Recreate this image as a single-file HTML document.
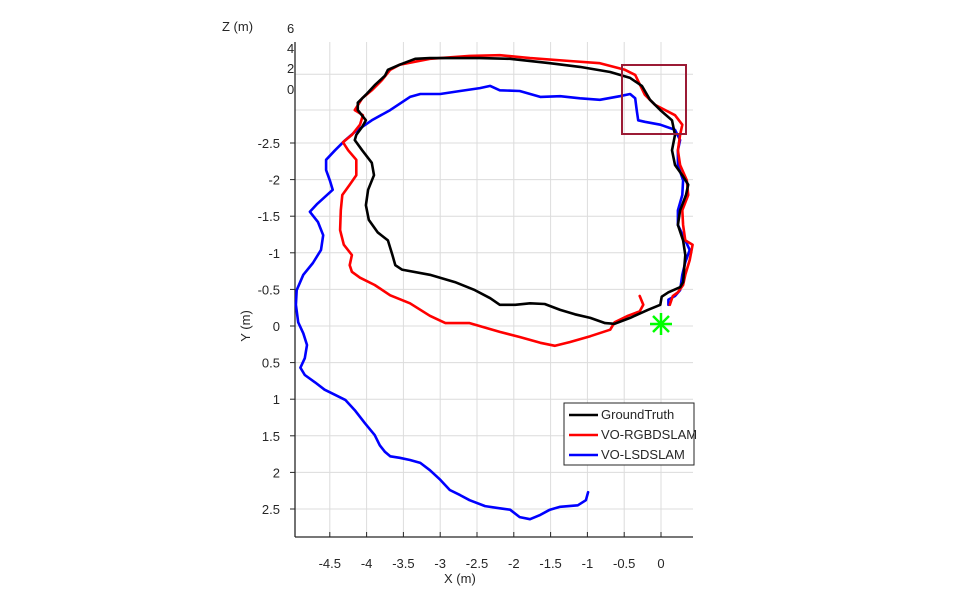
<!DOCTYPE html>
<html><head><meta charset="utf-8"><style>
html,body{margin:0;padding:0;background:#fff;}
svg{display:block;font-family:"Liberation Sans",sans-serif;}
text{fill:#262626;font-size:13px;}
</style></head><body>
<svg id="chart" width="956" height="604">
<g id="grid"></g>
<g id="axes"></g>
<g id="series"></g>
<rect x="622" y="65" width="64" height="69" fill="none" stroke="#9b1b35" stroke-width="2"/>
<g stroke="#00ff00" stroke-width="2.5">
<line x1="650" y1="324" x2="672" y2="324"/><line x1="661" y1="313" x2="661" y2="335"/>
<line x1="653" y1="316" x2="669" y2="332"/><line x1="669" y1="316" x2="653" y2="332"/>
</g>
<text x="222" y="31" font-size="14">Z (m)</text>
<text x="287" y="33">6</text>
<text x="287" y="53">4</text>
<text x="287" y="73">2</text>
<text x="287" y="94">0</text>
<text x="444" y="583" font-size="14">X (m)</text>
<text transform="translate(250,326) rotate(-90)" text-anchor="middle" font-size="14">Y (m)</text>
<g>
<rect x="564" y="403" width="130" height="62" fill="#fff" stroke="#262626" stroke-width="1"/>
<line x1="569" y1="415" x2="598" y2="415" stroke="#000" stroke-width="2.5"/>
<text x="601" y="419" font-size="10.5">GroundTruth</text>
<line x1="569" y1="435" x2="598" y2="435" stroke="#ff0000" stroke-width="2.5"/>
<text x="601" y="439" font-size="10.5">VO-RGBDSLAM</text>
<line x1="569" y1="455" x2="598" y2="455" stroke="#0000ff" stroke-width="2.5"/>
<text x="601" y="459" font-size="10.5">VO-LSDSLAM</text>
</g>
</svg>
<script>
const xTicks=[-4.5,-4,-3.5,-3,-2.5,-2,-1.5,-1,-0.5,0];
const yTicks=[-2.5,-2,-1.5,-1,-0.5,0,0.5,1,1.5,2,2.5];
const extraGridY=[-3.44,-2.95];
const gtX=[-4.16,-4.06,-3.93,-3.90,-3.98,-4.01,-3.97,-3.85,-3.71,-3.65,-3.61,-3.52,-3.14,-2.80,-2.53,-2.32,-2.19,-1.98,-1.78,-1.58,-1.37,-1.17,-0.96,-0.76,-0.63,-0.42,-0.18,-0.01,0.01,0.10,0.26,0.30,0.33,0.30,0.23,0.26,0.34,0.37,0.29,0.19,0.15,0.19,0.15,-0.01,-0.15,-0.26,-0.42,-0.69,-1.10,-1.51,-2.05,-2.46,-2.87,-3.14,-3.34,-3.55,-3.71,-3.75,-3.89,-4.01,-4.12,-4.12,-4.01,-4.06,-4.14,-4.16];
const gtY=[-2.54,-2.40,-2.23,-2.06,-1.86,-1.65,-1.45,-1.28,-1.17,-0.97,-0.83,-0.77,-0.70,-0.60,-0.49,-0.38,-0.29,-0.29,-0.31,-0.30,-0.22,-0.16,-0.11,-0.04,-0.03,-0.11,-0.22,-0.29,-0.40,-0.46,-0.53,-0.60,-0.97,-1.17,-1.38,-1.58,-1.79,-1.93,-2.06,-2.20,-2.40,-2.61,-2.81,-2.95,-3.09,-3.28,-3.39,-3.47,-3.54,-3.59,-3.65,-3.66,-3.66,-3.66,-3.65,-3.57,-3.50,-3.42,-3.29,-3.16,-3.05,-2.95,-2.81,-2.72,-2.61,-2.54];
const rgbX=[-0.29,-0.24,-0.29,-0.45,-0.63,-0.69,-0.96,-1.24,-1.44,-1.64,-1.92,-2.19,-2.60,-2.93,-3.14,-3.41,-3.68,-3.89,-4.09,-4.20,-4.23,-4.20,-4.31,-4.36,-4.35,-4.33,-4.23,-4.14,-4.14,-4.25,-4.32,-4.20,-4.09,-4.05,-4.16,-4.06,-3.93,-3.79,-3.68,-3.55,-3.14,-2.60,-2.19,-1.78,-1.24,-0.83,-0.49,-0.35,-0.22,-0.08,0.19,0.29,0.26,0.23,0.26,0.35,0.37,0.29,0.30,0.33,0.43,0.39,0.33,0.30,0.23,0.16,0.12];
const rgbY=[-0.41,-0.29,-0.20,-0.14,-0.05,0.05,0.14,0.22,0.27,0.23,0.15,0.08,-0.04,-0.04,-0.14,-0.31,-0.42,-0.56,-0.66,-0.74,-0.83,-0.97,-1.11,-1.31,-1.58,-1.79,-1.93,-2.06,-2.27,-2.40,-2.51,-2.61,-2.75,-2.88,-2.95,-3.11,-3.22,-3.36,-3.50,-3.57,-3.65,-3.69,-3.70,-3.66,-3.62,-3.59,-3.50,-3.43,-3.16,-3.02,-2.88,-2.75,-2.61,-2.40,-2.20,-1.99,-1.79,-1.58,-1.38,-1.17,-1.11,-0.90,-0.70,-0.56,-0.46,-0.41,-0.29];
const lsdX=[-0.99,-1.02,-1.13,-1.37,-1.51,-1.64,-1.78,-1.92,-2.05,-2.19,-2.39,-2.60,-2.73,-2.87,-3.00,-3.14,-3.27,-3.41,-3.55,-3.68,-3.75,-3.82,-3.89,-4.02,-4.16,-4.29,-4.43,-4.57,-4.70,-4.84,-4.90,-4.84,-4.81,-4.86,-4.93,-4.96,-4.95,-4.86,-4.73,-4.62,-4.59,-4.66,-4.77,-4.67,-4.57,-4.46,-4.50,-4.55,-4.55,-4.43,-4.29,-4.16,-3.93,-3.68,-3.41,-3.27,-3.00,-2.73,-2.46,-2.32,-2.19,-1.92,-1.64,-1.37,-1.10,-0.83,-0.56,-0.42,-0.35,-0.33,-0.31,-0.22,-0.01,0.19,0.26,0.23,0.23,0.30,0.29,0.23,0.23,0.33,0.39,0.33,0.29,0.26,0.19,0.10,0.10];
const lsdY=[2.27,2.38,2.45,2.47,2.51,2.58,2.64,2.61,2.51,2.49,2.46,2.38,2.31,2.24,2.10,1.97,1.87,1.83,1.80,1.78,1.72,1.63,1.49,1.33,1.15,1.01,0.94,0.87,0.77,0.67,0.57,0.44,0.26,0.10,-0.05,-0.29,-0.49,-0.70,-0.86,-1.04,-1.24,-1.42,-1.56,-1.67,-1.76,-1.86,-1.99,-2.13,-2.27,-2.40,-2.54,-2.65,-2.81,-2.95,-3.13,-3.17,-3.17,-3.21,-3.25,-3.28,-3.22,-3.21,-3.13,-3.14,-3.11,-3.09,-3.14,-3.17,-3.11,-2.95,-2.81,-2.79,-2.75,-2.68,-2.54,-2.40,-2.20,-1.99,-1.79,-1.58,-1.38,-1.17,-1.04,-0.87,-0.70,-0.49,-0.41,-0.36,-0.29];

const NS='http://www.w3.org/2000/svg';
const X0=661,XS=73.6,Y0=326,YS=73.2;
const L=295,R=693,T=42,B=537;
function sx(v){return X0+v*XS;}
function sy(v){return Y0+v*YS;}
function mk(tag,attrs,parent){const e=document.createElementNS(NS,tag);for(const k in attrs)e.setAttribute(k,attrs[k]);parent.appendChild(e);return e;}
const grid=document.getElementById('grid'),axes=document.getElementById('axes'),series=document.getElementById('series');
xTicks.forEach(t=>{
  const g=mk('line',{x1:sx(t),x2:sx(t),y1:T,y2:B,stroke:'#dcdcdc','stroke-width':1},grid);
  
  
  const tk=mk('line',{x1:sx(t),x2:sx(t),y1:B,y2:B-5,stroke:'#262626','stroke-width':1},axes);
  
  
  const lb=mk('text',{x:sx(t),y:568,'text-anchor':'middle'},axes);
  lb.textContent=String(t);
  
  
});
yTicks.concat(extraGridY).forEach(t=>{
  const g=mk('line',{x1:L,x2:R,y1:sy(t),y2:sy(t),stroke:'#dcdcdc','stroke-width':1},grid);
  
  
});
yTicks.forEach(t=>{
  const tk=mk('line',{x1:L-5,x2:L,y1:sy(t),y2:sy(t),stroke:'#262626','stroke-width':1},axes);
  
  
  const lb=mk('text',{x:280,y:sy(t)+5,'text-anchor':'end'},axes);
  lb.textContent=String(t);
  
  
});
const ys=mk('line',{x1:L,x2:L,y1:T,y2:B,stroke:'#262626','stroke-width':1.3},axes);


const xs=mk('line',{x1:L,x2:R,y1:B,y2:B,stroke:'#262626','stroke-width':1.3},axes);


function drawLine(xa,ya,color,name){
  const d=xa.map((v,i)=>(i?'L':'M')+sx(v).toFixed(1)+','+sy(ya[i]).toFixed(1)).join(' ');
  const p=mk('path',{d:d,fill:'none',stroke:color,'stroke-width':2.6,'stroke-linejoin':'round','stroke-linecap':'round'},series);
  
  
}
drawLine(lsdX,lsdY,'#0000ff','lsdslam-line');
drawLine(rgbX,rgbY,'#ff0000','rgbdslam-line');
drawLine(gtX,gtY,'#000000','groundtruth-line');
</script>
</body></html>
